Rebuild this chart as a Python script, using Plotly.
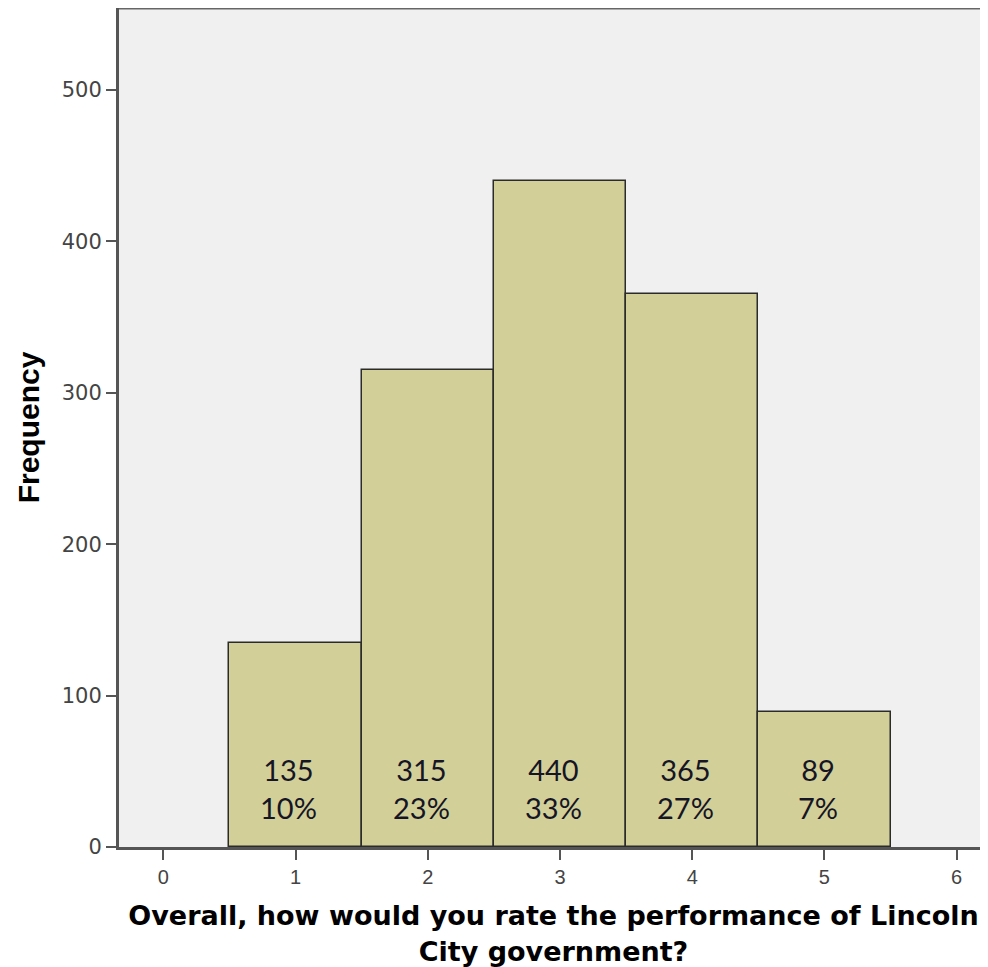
import plotly.graph_objects as go

ratings = [1, 2, 3, 4, 5]
counts = [135, 315, 440, 365, 89]
x_ticks = [0, 1, 2, 3, 4, 5, 6]
y_ticks = [0, 100, 200, 300, 400, 500]

total = sum(counts)
pcts = [round(100 * c / total) for c in counts]

fig = go.Figure()
fig.add_trace(go.Bar(
    x=ratings, y=counts, width=1,
    marker=dict(color="#D3CF98", line=dict(color="#2b2b2b", width=1.5)),
    hoverinfo="x+y",
))

for r, c, p in zip(ratings, counts, pcts):
    fig.add_annotation(
        x=r - 0.05, y=38.5, xref="x", yref="y",
        text=f"{c}<br>{p}%", showarrow=False, yanchor="middle",
        font=dict(family="Lato", size=29, color="#151525"),
    )

fig.add_shape(type="line", xref="paper", yref="paper", x0=0, x1=1, y0=1, y1=1,
              line=dict(color="#666666", width=3))

fig.update_layout(
    width=980, height=959,
    margin=dict(l=111, r=0, t=0, b=120),
    paper_bgcolor="white", plot_bgcolor="#F0F0F0",
    showlegend=False, bargap=0,
    xaxis=dict(
        range=[-0.335, 6.237], tickvals=x_ticks, ticks="outside", ticklen=10,
        tickwidth=2, tickcolor="#555555", showgrid=False, zeroline=False,
        showline=True, linecolor="#555555", linewidth=3,
        tickfont=dict(family="Liberation Sans Narrow, Liberation Sans", size=20, color="#444444"),
        title=dict(text="<b>Overall, how would you rate the performance of Lincoln</b><br><b>City government?</b>",
                   font=dict(family="DejaVu Sans", size=27, color="black"), standoff=20),
    ),
    yaxis=dict(
        range=[0, 554.2], tickvals=y_ticks, ticks="outside", ticklen=10,
        tickwidth=2, tickcolor="#555555", showgrid=False, zeroline=False,
        showline=True, linecolor="#555555", linewidth=3,
        tickfont=dict(family="DejaVu Sans", size=21, color="#444444"),
        title=dict(text="<b>Frequency</b>",
                   font=dict(family="Liberation Sans", size=30, color="black"), standoff=14),
    ),
)

fig.write_html("out.html")
